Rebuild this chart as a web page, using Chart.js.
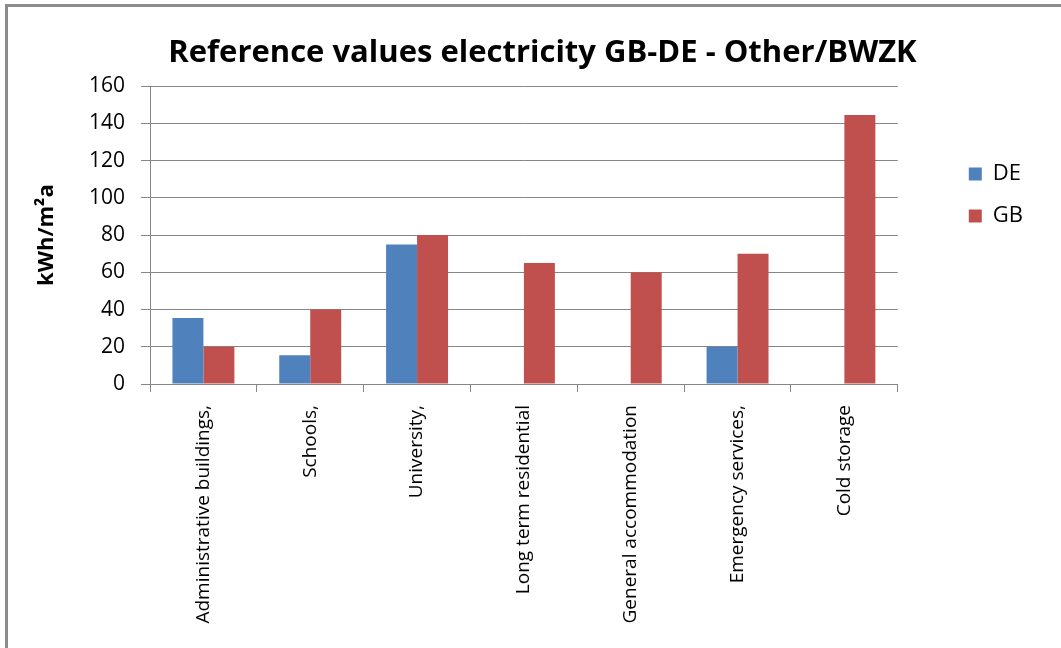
<!DOCTYPE html>
<html>
<head>
<meta charset="utf-8">
<script src="https://cdn.jsdelivr.net/npm/chart.js@4"></script>
<style>
  html, body { margin: 0; padding: 0; background: #fff; }
  #wrap { position: relative; width: 1061px; height: 648px; overflow: hidden; }
  #frame {
    position: absolute; left: 5px; top: 4px; width: 1100px; height: 700px;
    border-left: 3px solid #8c8c8c; border-top: 3px solid #8c8c8c;
    pointer-events: none;
  }
  canvas { position: absolute; left: 0; top: 0; }
</style>
</head>
<body>
<div id="wrap">
  <canvas id="chart" width="1061" height="648"></canvas>
  <div id="frame"></div>
</div>
<script>
const categories = [
  'Administrative buildings,',
  'Schools,',
  'University,',
  'Long term residential',
  'General accommodation',
  'Emergency services,',
  'Cold storage'
];
const valuesDE = [35.5, 15.5, 75, null, null, 20, null];
const valuesGB = [20, 40, 80, 65, 60, 70, 144.5];
const yTicks = [0, 20, 40, 60, 80, 100, 120, 140, 160];

const fontFamily = '"Open Sans", "Liberation Sans", sans-serif';

const datasets = [
  { label: 'DE', data: valuesDE, backgroundColor: '#4f81bd' },
  { label: 'GB', data: valuesGB, backgroundColor: '#c0504d' }
];

// empty box between plot area and legend
const legendGap = {
  id: 'legendGap',
  beforeInit(chart) {
    Chart.layouts.addBox(chart, {
      position: 'right',
      weight: 500,
      fullSize: false,
      options: {},
      isHorizontal() { return false; },
      update(maxWidth, maxHeight) {
        this.width = 51;
        this.height = maxHeight;
      },
      draw() {}
    });
  }
};

const myChart = new Chart(document.getElementById('chart'), {
  type: 'bar',
  data: { labels: categories, datasets: datasets },
  plugins: [legendGap],
  options: {
    responsive: false,
    animation: false,
    devicePixelRatio: 1,
    layout: { padding: { left: 52, right: 28, top: 0, bottom: 0 } },
    datasets: {
      bar: { categoryPercentage: 0.58, barPercentage: 1 }
    },
    plugins: {
      title: {
        display: true,
        text: 'Reference values electricity GB-DE - Other/BWZK',
        color: '#000',
        font: { family: fontFamily, size: 31, weight: 'bold' },
        padding: { top: 35, bottom: 14 }
      },
      legend: {
        position: 'right',
        align: 'start',
        title: {
          display: true,
          text: ' ',
          font: { size: 10 },
          padding: { top: 0, bottom: 131 }
        },
        labels: {
          color: '#000',
          font: { family: fontFamily, size: 22 },
          boxWidth: 13,
          boxHeight: 13,
          padding: 20
        }
      },
      tooltip: { enabled: false }
    },
    scales: {
      x: {
        afterFit: (scale) => {
          scale.height = 264;
        },
        grid: {
          offset: true,
          drawOnChartArea: false,
          drawTicks: true,
          tickLength: 8,
          color: '#868686'
        },
        border: { color: '#868686' },
        ticks: {
          color: '#000',
          font: { family: fontFamily, size: 19 },
          minRotation: 90,
          maxRotation: 90,
          padding: 13
        }
      },
      y: {
        min: 0,
        max: 160,
        afterBuildTicks: (scale) => {
          scale.ticks = yTicks.map((v) => ({ value: v }));
        },
        afterFit: (scale) => {
          scale.width = 98;
        },
        grid: { color: '#868686', tickLength: 9 },
        border: { color: '#868686' },
        ticks: {
          color: '#000',
          font: { family: fontFamily, size: 21 },
          padding: 16
        },
        title: {
          display: true,
          text: 'kWh/m²a',
          color: '#000',
          font: { family: fontFamily, size: 22, weight: 'bold' },
          padding: { top: -18, bottom: 0 }
        }
      }
    }
  }
});
</script>
</body>
</html>
